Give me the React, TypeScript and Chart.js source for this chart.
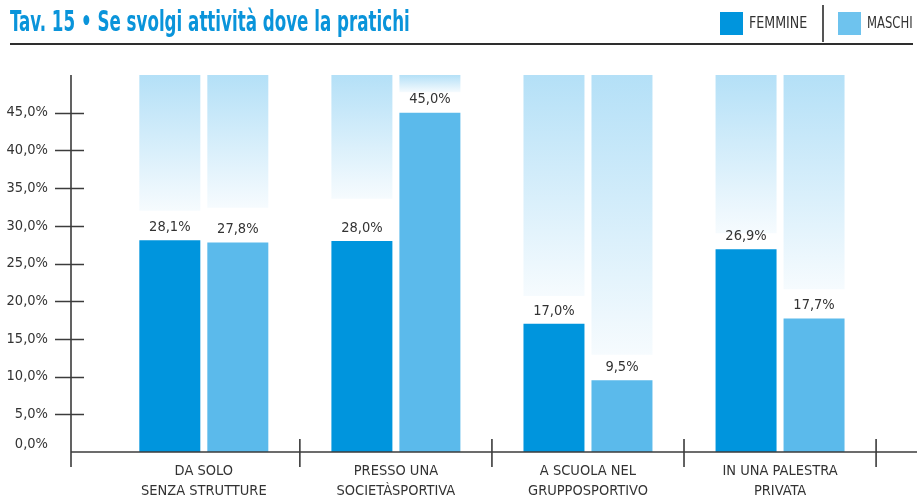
import React, { useEffect, useRef, useState } from "react";
import { Chart, registerables } from "chart.js";

Chart.register(...registerables);

// ---------- data ----------
const categories: string[][] = [
  ["DA SOLO", "SENZA STRUTTURE"],
  ["PRESSO UNA", "SOCIETÀSPORTIVA"],
  ["A SCUOLA NEL", "GRUPPOSPORTIVO"],
  ["IN UNA PALESTRA", "PRIVATA"],
];
const femmine: number[] = [28.1, 28.0, 17.0, 26.9];
const maschi: number[] = [27.8, 45.0, 9.5, 17.7];
// light "shade" columns behind the bars (from these values up to the top of the scale)
const femmineShadeFrom: number[] = [32.0, 33.6, 20.7, 29.0];
const maschiShadeFrom: number[] = [32.4, 47.7, 12.9, 21.6];
const scaleTop = 50;
const yTickValues: number[] = [0, 5, 10, 15, 20, 25, 30, 35, 40, 45];

const TITLE = "Tav. 15 • Se svolgi attività dove la pratichi";
const seriesNames = ["FEMMINE", "MASCHI"];

// ---------- styles ----------
const FONT = "'Liberation Sans Narrow', 'DejaVu Sans Condensed', 'Liberation Sans', sans-serif";
const BLUE_F = "#0095dd";
const BLUE_M = "#5bbaeb";
const TITLE_BLUE = "#0a94da";
const INK = "#333333";
const LINE = "#3c3c3c";

const fmt = (v: number) => v.toFixed(1).replace(".", ",") + "%";

const shadeColor = (from: number[]) => (c: any) => {
  const chart = c.chart;
  const y = chart.scales && chart.scales.y;
  if (c.type !== "data" || !y) return "#cfeaf9";
  const top = y.getPixelForValue(scaleTop);
  const bot = y.getPixelForValue(from[c.dataIndex]);
  if (!isFinite(top) || !isFinite(bot) || top === bot) return "#cfeaf9";
  const g = chart.ctx.createLinearGradient(0, top, 0, bot);
  g.addColorStop(0, "#b4e0f7");
  g.addColorStop(1, "#f6fbfe");
  return g;
};

const axesPlugin = {
  id: "axesDecor",
  afterDatasetsDraw(chart: any) {
    const { ctx, chartArea: ca } = chart;
    const x = chart.scales.x;
    const y = chart.scales.y;
    ctx.save();
    ctx.strokeStyle = LINE;
    ctx.lineWidth = 1.6;
    ctx.beginPath();
    ctx.moveTo(ca.left, ca.top);
    ctx.lineTo(ca.left, ca.bottom + 15);
    ctx.moveTo(ca.left, ca.bottom);
    ctx.lineTo(ca.right, ca.bottom);
    for (const v of yTickValues) {
      if (v === 0) continue;
      const py = Math.round(y.getPixelForValue(v)) + 0.5;
      ctx.moveTo(ca.left - 16, py);
      ctx.lineTo(ca.left + 13, py);
    }
    for (let i = 0; i < categories.length; i++) {
      const px = x.getPixelForValue(i + 0.5);
      ctx.moveTo(px, ca.bottom - 13);
      ctx.lineTo(px, ca.bottom + 15);
    }
    ctx.stroke();
    ctx.restore();
  },
};

const valueLabelPlugin = {
  id: "valueLabels",
  afterDatasetsDraw(chart: any) {
    const { ctx } = chart;
    ctx.save();
    ctx.fillStyle = INK;
    ctx.font = `14.5px ${FONT}`;
    ctx.textAlign = "center";
    ctx.textBaseline = "middle";
    [0, 1].forEach((di) => {
      const meta = chart.getDatasetMeta(di);
      const values = chart.data.datasets[di].data as number[];
      meta.data.forEach((el: any, i: number) => {
        ctx.fillText(fmt(values[i]), el.x, el.y - 13);
      });
    });
    ctx.restore();
  },
};

function FitText(props: {
  text: string;
  left: number;
  top: number;
  size: number;
  width: number;
  color: string;
  weight?: number;
}) {
  const ref = useRef<HTMLSpanElement>(null);
  const [sx, setSx] = useState(1);
  useEffect(() => {
    const measure = () => {
      if (!ref.current) return;
      const w = ref.current.offsetWidth;
      if (w > 0) setSx(props.width / w);
    };
    measure();
    (document as any).fonts?.ready?.then(measure);
  }, [props.width]);
  return (
    <span
      ref={ref}
      style={{
        position: "absolute",
        left: props.left,
        top: props.top,
        fontFamily: FONT,
        fontWeight: props.weight ?? 400,
        fontSize: props.size,
        lineHeight: `${props.size}px`,
        color: props.color,
        whiteSpace: "nowrap",
        transform: `scaleX(${sx})`,
        transformOrigin: "0 0",
      }}
    >
      {props.text}
    </span>
  );
}

export default function App() {
  const canvasRef = useRef<HTMLCanvasElement>(null);

  useEffect(() => {
    if (!canvasRef.current) return;
    const barOpts = { categoryPercentage: 0.708, barPercentage: 0.897 };
    const chart = new Chart(canvasRef.current, {
      type: "bar",
      data: {
        labels: categories.map((_, i) => i),
        datasets: [
          { label: seriesNames[0], data: femmine, backgroundColor: BLUE_F, stack: "f", ...barOpts },
          { label: seriesNames[1], data: maschi, backgroundColor: BLUE_M, stack: "m", ...barOpts },
          {
            label: "shade F",
            data: femmineShadeFrom.map((v) => [v, scaleTop]) as any,
            backgroundColor: shadeColor(femmineShadeFrom) as any,
            stack: "f",
            ...barOpts,
          },
          {
            label: "shade M",
            data: maschiShadeFrom.map((v) => [v, scaleTop]) as any,
            backgroundColor: shadeColor(maschiShadeFrom) as any,
            stack: "m",
            ...barOpts,
          },
        ],
      },
      options: {
        responsive: false,
        animation: false,
        events: [],
        layout: { padding: { top: 75, left: 0, right: 2, bottom: 0 } },
        plugins: {
          legend: { display: false },
          tooltip: { enabled: false },
          title: { display: false },
        },
        scales: {
          x: {
            type: "linear",
            stacked: true,
            offset: false,
            min: -0.6915,
            max: 3.713,
            grid: { display: false, drawTicks: false, offset: false },
            border: { display: false },
            afterBuildTicks: (scale: any) => {
              scale.ticks = categories.map((_, i) => ({ value: i }));
            },
            afterFit: (scale: any) => {
              scale.height = 47;
            },
            ticks: {
              autoSkip: false,
              maxRotation: 0,
              minRotation: 0,
              padding: 9,
              color: INK,
              font: { family: FONT, size: 14.5, lineHeight: 1.38 },
              callback: (v: any) => categories[Math.round(Number(v))] ?? "",
            },
          },
          y: {
            type: "linear",
            stacked: false,
            min: 0,
            max: scaleTop,
            grid: { display: false, drawTicks: false },
            border: { display: false },
            afterBuildTicks: (scale: any) => {
              scale.ticks = [...yTickValues, scaleTop].map((v) => ({ value: v }));
            },
            afterFit: (scale: any) => {
              scale.width = 71;
            },
            ticks: {
              padding: 23,
              color: INK,
              font: { family: FONT, size: 14.5, lineHeight: 1.1 },
              callback: (v: any) => {
                const n = Number(v);
                if (n === scaleTop) return "";
                if (n === 0) return [fmt(0), ""];
                return fmt(n);
              },
            },
          },
        },
      },
      plugins: [axesPlugin, valueLabelPlugin],
    });
    return () => chart.destroy();
  }, []);

  return (
    <div
      style={{
        position: "absolute",
        left: 0,
        top: 0,
        width: 919,
        height: 499,
        background: "#ffffff",
        overflow: "hidden",
      }}
    >
      <canvas
        ref={canvasRef}
        width={919}
        height={499}
        style={{ position: "absolute", left: 0, top: 0, width: 919, height: 499 }}
      />
      <FitText text={TITLE} left={10} top={8} size={28} width={400} color={TITLE_BLUE} weight={700} />
      {/* rule under the title */}
      <div style={{ position: "absolute", left: 10, top: 43, width: 903, height: 2, background: "#2e2e2e" }} />
      {/* legend */}
      <div style={{ position: "absolute", left: 720, top: 12, width: 23, height: 23, background: BLUE_F }} />
      <FitText text={seriesNames[0]} left={749} top={15} size={16} width={58} color={INK} />
      <div style={{ position: "absolute", left: 822, top: 5, width: 1.5, height: 37, background: "#555" }} />
      <div style={{ position: "absolute", left: 838, top: 12, width: 23, height: 23, background: "#6ec3ee" }} />
      <FitText text={seriesNames[1]} left={867} top={15} size={16} width={46} color={INK} />
    </div>
  );
}
